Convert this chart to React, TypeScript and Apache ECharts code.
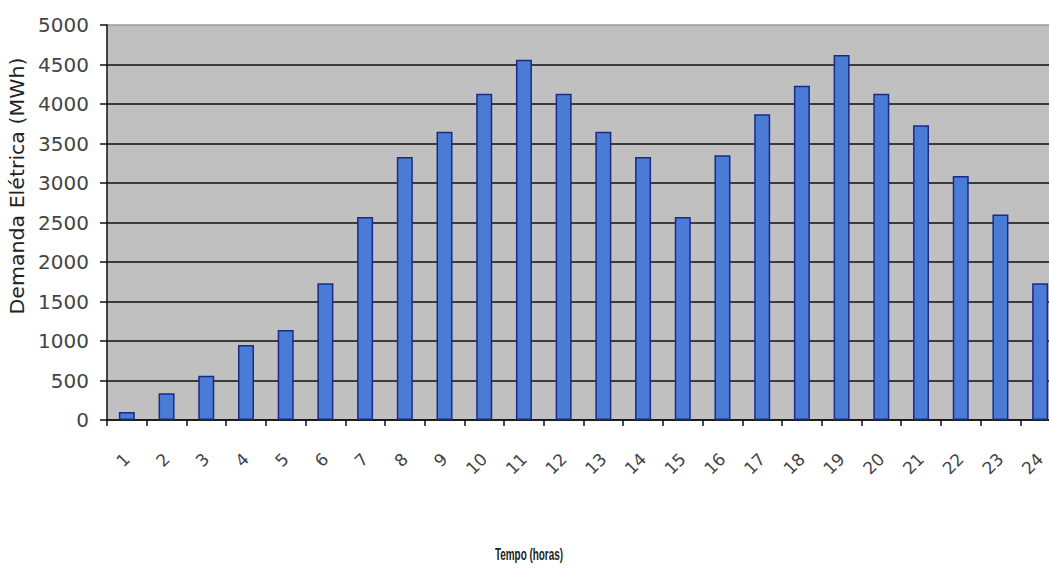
import React, { useEffect, useRef } from "react";
import * as echarts from "echarts";

const hours = ["1", "2", "3", "4", "5", "6", "7", "8", "9", "10", "11", "12", "13", "14", "15", "16", "17", "18", "19", "20", "21", "22", "23", "24"];
const demand = [100, 340, 560, 950, 1140, 1730, 2570, 3330, 3650, 4130, 4560, 4130, 3650, 3330, 2570, 3350, 3870, 4230, 4620, 4130, 3730, 3090, 2600, 1730];
const yMin = 0;
const yMax = 5000;
const yStep = 500;
const yTitle = "Demanda Elétrica (MWh)";
const xTitle = "Tempo (horas)";

export default function App() {
  const ref = useRef<HTMLDivElement>(null);
  useEffect(() => {
    if (!ref.current) return;
    const chart = echarts.init(ref.current, undefined, { renderer: "svg" });
    const lineCount = Math.round((yMax - yMin) / yStep) + 1;
    const gridColors = Array.from({ length: lineCount }, (_, i) => (i === lineCount - 1 ? "#9a9a9a" : "#111111"));
    chart.setOption({
      animation: false,
      backgroundColor: "#ffffff",
      grid: { left: 107, right: 10, top: 25, bottom: 153, show: true, backgroundColor: "#c0c0c0", borderWidth: 0 },
      xAxis: {
        type: "category",
        data: hours,
        axisLine: { show: true, lineStyle: { color: "#111", width: 1.5 } },
        axisTick: { show: true, alignWithLabel: false, length: 6, lineStyle: { color: "#111", width: 1.5 } },
        axisLabel: {
          rotate: 45,
          margin: 36,
          fontFamily: "DejaVu Sans",
          fontSize: 17,
          color: "#444",
          interval: 0,
        },
      },
      yAxis: {
        type: "value",
        min: yMin,
        max: yMax,
        interval: yStep,
        axisLine: { show: true, lineStyle: { color: "#111", width: 1.5 } },
        axisTick: { show: true, length: 7, lineStyle: { color: "#111", width: 1.5 } },
        axisLabel: {
          margin: 18,
          fontFamily: "DejaVu Sans",
          fontSize: 20,
          color: "#444",
          formatter: (v: number) => String(v),
        },
        splitLine: { show: true, lineStyle: { color: gridColors, width: 1.5 } },
      },
      series: [
        {
          type: "bar",
          data: demand,
          barWidth: 16,
          itemStyle: { color: "#4a7cd6", borderColor: "#1a2a88", borderWidth: 1.5 },
        },
      ],
      graphic: [
        {
          type: "text",
          x: 18,
          y: 186,
          rotation: Math.PI / 2,
          scaleX: 1.08,
          style: {
            text: yTitle,
            fontFamily: "DejaVu Sans",
            fontSize: 19,
            fill: "#222",
            align: "center",
            verticalAlign: "middle",
          },
        },
        {
          type: "text",
          x: 529,
          y: 555,
          scaleX: 0.62,
          style: {
            text: xTitle,
            fontFamily: "Liberation Sans",
            fontWeight: "bold",
            fontSize: 16,
            fill: "#222",
            align: "center",
            verticalAlign: "middle",
          },
        },
      ],
    });
    return () => chart.dispose();
  }, []);
  return (
    <div style={{ position: "absolute", left: 0, top: 0, width: 1049, height: 573, overflow: "hidden", background: "#fff" }}>
      <div ref={ref} style={{ width: 1070, height: 573 }} />
    </div>
  );
}
